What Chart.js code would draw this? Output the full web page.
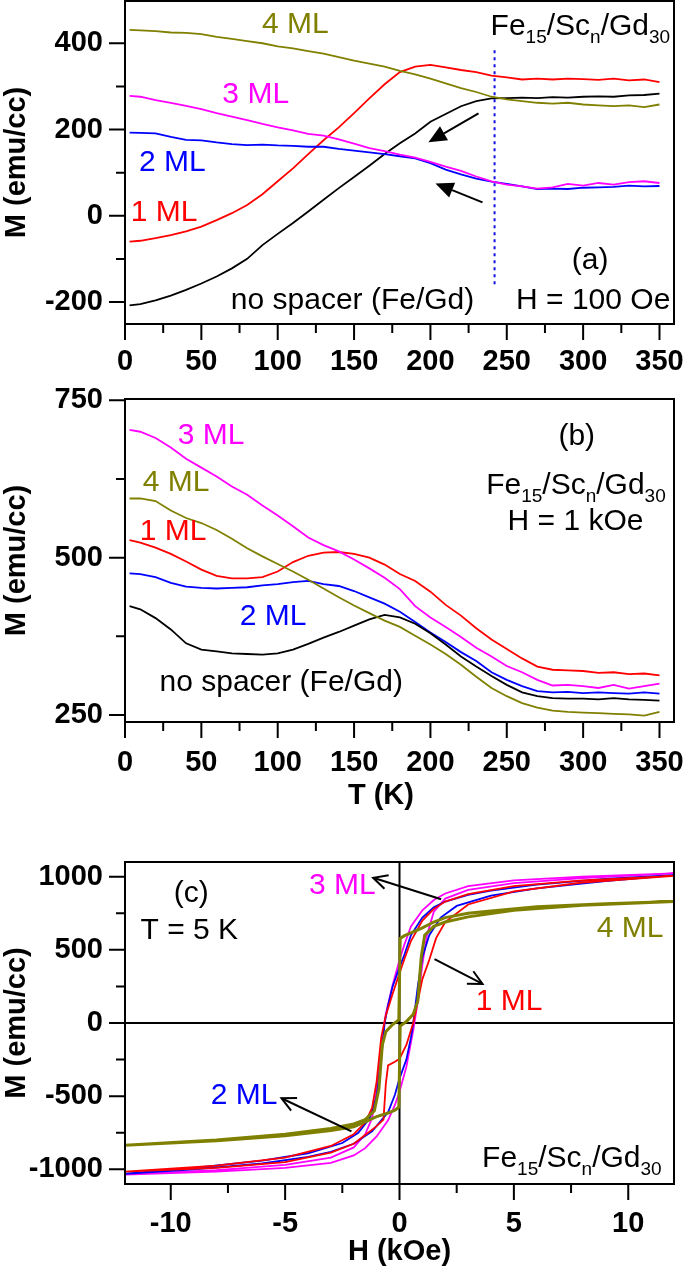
<!DOCTYPE html>
<html><head><meta charset="utf-8">
<script src="https://cdn.jsdelivr.net/npm/chart.js@4.4.1/dist/chart.umd.min.js"></script>
<style>
html,body{margin:0;padding:0;background:#fff;}
body{width:685px;height:1269px;position:relative;overflow:hidden;}
canvas{position:absolute;left:0;}
</style></head><body>
<canvas id="ca" width="685" height="380" style="top:0px"></canvas>
<canvas id="cb" width="685" height="435" style="top:380px"></canvas>
<canvas id="cc" width="685" height="454" style="top:815px"></canvas>
<script>
// ---------- DATA ----------
const T = [3,10,20,30,40,50,60,70,80,90,100,110,120,130,140,150,160,170,180,190,200,210,220,230,240,250,260,270,280,290,300,310,320,330,340,350];
// panel (a): H = 100 Oe
const aBlack   = [-208,-205,-196,-185,-172,-157,-141,-122,-100,-68,-42,-17,10,37,64,90,116,143,168,191,218,236,254,266,272,273,274,273,275,274,276,277,276,279,280,283];
const aRed     = [-60,-58,-52,-45,-36,-25,-10,6,25,50,80,110,143,175,205,238,272,305,333,346,350,344,338,333,325,321,316,318,316,318,317,315,318,314,316,310];
const aBlue    = [193,192,191,183,176,175,170,166,164,165,163,162,160,160,155,151,147,143,138,133,122,107,96,86,79,74,68,62,63,62,65,66,67,70,68,69];
const aMagenta = [278,276,268,262,255,247,238,230,222,213,205,198,190,186,177,167,157,150,142,135,125,114,104,91,80,72,68,63,66,74,70,76,72,78,80,76];
const aOlive   = [431,430,428,425,424,421,415,410,405,400,393,388,382,376,368,360,353,346,336,328,318,307,296,287,276,270,266,262,260,262,258,256,254,256,252,258];
const aMarkerT = [242,242];
const aMarkerM = [384,-166];
// panel (b): H = 1 kOe
const bBlack   = [423,418,404,386,364,354,351,348,347,346,348,354,363,373,382,392,402,409,405,395,380,362,343,327,312,298,286,280,277,276,276,275,277,275,274,273];
const bRed     = [528,524,516,506,494,481,471,467,467,469,478,493,503,508,509,506,500,489,474,463,446,425,408,388,370,355,340,327,322,321,320,317,318,315,316,313];
const bBlue    = [475,474,469,460,454,452,451,452,453,456,458,461,463,458,455,447,437,427,414,398,381,366,350,336,318,306,296,288,286,287,285,286,285,284,286,284];
const bMagenta = [703,700,690,675,657,643,629,613,600,583,567,550,532,520,510,497,483,468,450,423,405,390,374,357,343,328,318,306,297,298,296,293,298,292,296,300];
const bOlive   = [594,594,590,575,563,555,544,530,515,502,490,478,465,451,437,424,412,400,390,376,362,347,330,311,293,280,269,262,257,255,254,253,252,251,249,255];
// panel (c): hysteresis loops at T = 5 K (H in kOe, M in emu/cc)
const cRedH = [12,8,5,3,2,1.5,1,0.5,0.2,0,-0.3,-0.6,-0.8,-1,-1.2,-1.5,-2,-3,-5,-8,-12,-8,-5,-3,-2,-1.5,-1,-0.7,-0.6,-0.5,-0.2,0,0.3,0.6,0.8,1,1.3,1.6,2,3,5,8,12];
const cRedM = [1005,975,935,880,830,780,700,560,430,340,200,50,-100,-400,-580,-680,-760,-840,-920,-975,-1015,-990,-950,-885,-825,-765,-705,-660,-420,-290,-265,-245,-150,0,150,300,430,580,690,810,900,960,1005];
const cBlueH = [12,9,6,4,3,2,1.5,1,0.5,0.2,0,-0.3,-0.5,-0.65,-0.8,-1,-1.3,-1.8,-2.5,-4,-6,-9,-12,-9,-6,-4,-3,-2,-1.2,-0.5,-0.2,0,0.3,0.5,0.6,0.8,1,1.3,1.8,2.5,4,6,9,12];
const cBlueM = [1010,985,945,905,875,830,790,720,600,460,380,250,120,0,-250,-500,-650,-750,-820,-890,-940,-990,-1030,-1000,-960,-915,-880,-825,-740,-610,-490,-380,-250,-100,0,250,450,600,720,800,870,920,970,1010];
const cMagH = [12,8,5,3,2,1.5,1,0.5,0.2,0,-0.3,-0.6,-0.8,-1,-1.2,-1.5,-2,-3,-5,-8,-12,-8,-5,-3,-2,-1.5,-1,-0.5,-0.2,0,0.3,0.6,0.8,1,1.2,1.5,2,3,5,8,12];
const cMagM = [1022,1000,975,935,885,840,770,660,530,430,260,60,-150,-450,-650,-760,-850,-920,-970,-1005,-1035,-1015,-990,-955,-905,-855,-775,-665,-560,-470,-300,-50,150,400,600,760,850,910,955,990,1022];
const cOliveH = [12,9,6,4,3,2,1.5,1,0.5,0.2,0.03,0,-0.03,-0.3,-0.6,-0.75,-0.9,-1.1,-1.5,-2,-3,-5,-8,-12,-8,-5,-3,-2,-1.5,-1,-0.5,-0.2,-0.03,0,0.03,0.3,0.6,0.8,0.95,1.1,1.5,2,3,5,8,12];
const cOliveM = [830,815,795,765,750,720,690,650,615,595,578,300,20,-10,-60,-150,-450,-600,-660,-690,-720,-760,-800,-836,-805,-770,-735,-710,-675,-640,-615,-595,-575,-300,-20,10,60,150,450,600,660,690,725,770,805,830];
// ticks
const tMajor = [0,50,100,150,200,250,300,350];
const tMinor = [25,75,125,175,225,275,325];
const aYMajor = [-200,0,200,400];
const aYMinor = [-100,100,300];
const bYMajor = [250,500,750];
const bYMinor = [375,625];
const cXMajor = [-10,-5,0,5,10];
const cXMinor = [-7.5,-2.5,2.5,7.5];
const cYMajor = [-1000,-500,0,500,1000];
const cYMinor = [-750,-250,250,750];

// ---------- STYLE ----------
const FAM = '"Liberation Sans", Arial, Helvetica, sans-serif';
Chart.defaults.font.family = FAM;
Chart.defaults.color = '#000';
const C = {black:'#000000', red:'#ff0000', blue:'#0000ff', magenta:'#ff00ff', olive:'#808000'};
const tickFont = {family:FAM, size:29, weight:'bold'};
const titleFont = {family:FAM, size:29, weight:'bold'};

const pts = (xs, ys) => xs.map((x,i)=>({x:x, y:ys[i]}));
const line = (xs, ys, color, w, extra) => Object.assign({data:pts(xs,ys), borderColor:color, backgroundColor:color, borderWidth:w||1.8, showLine:true, pointRadius:0, fill:false, tension:0}, extra||{});

function drawArrow(ctx, x1, y1, x2, y2, filled){
  const ang = Math.atan2(y2-y1, x2-x1);
  const L = filled ? 18 : 14, W = filled ? 8 : 7;
  const bx = x2 - L*Math.cos(ang), by = y2 - L*Math.sin(ang);
  const px = -Math.sin(ang)*W, py = Math.cos(ang)*W;
  ctx.strokeStyle = '#000'; ctx.fillStyle = '#000'; ctx.lineWidth = 2;
  ctx.beginPath(); ctx.moveTo(x1,y1); ctx.lineTo(filled?bx:x2, filled?by:y2); ctx.stroke();
  ctx.beginPath(); ctx.moveTo(bx+px, by+py); ctx.lineTo(x2,y2); ctx.lineTo(bx-px, by-py);
  if (filled){ ctx.closePath(); ctx.fill(); } else { ctx.stroke(); }
}

const framePlugin = {
  id:'frameTicks',
  beforeDatasetsDraw(chart, args, o){
    if (!o.zeroLines) return;
    const {ctx, chartArea:a, scales:{x,y}} = chart;
    ctx.save(); ctx.strokeStyle='#000'; ctx.lineWidth=2;
    const x0 = x.getPixelForValue(0), y0 = y.getPixelForValue(0);
    ctx.beginPath(); ctx.moveTo(x0,a.top); ctx.lineTo(x0,a.bottom); ctx.moveTo(a.left,y0); ctx.lineTo(a.right,y0); ctx.stroke();
    ctx.restore();
  },
  afterDatasetsDraw(chart, args, o){
    const {ctx, chartArea:a, scales:{x,y}} = chart;
    ctx.save(); ctx.strokeStyle='#000'; ctx.lineWidth=2;
    ctx.strokeRect(a.left, a.top, a.right-a.left, a.bottom-a.top);
    ctx.beginPath();
    o.xMajor.forEach(v=>{const p=x.getPixelForValue(v); ctx.moveTo(p,a.bottom); ctx.lineTo(p,a.bottom+16);});
    o.xMinor.forEach(v=>{const p=x.getPixelForValue(v); ctx.moveTo(p,a.bottom); ctx.lineTo(p,a.bottom+9);});
    o.yMajor.forEach(v=>{const p=y.getPixelForValue(v); ctx.moveTo(a.left,p); ctx.lineTo(a.left-16,p);});
    o.yMinor.forEach(v=>{const p=y.getPixelForValue(v); ctx.moveTo(a.left,p); ctx.lineTo(a.left-9,p);});
    ctx.stroke();
    ctx.restore();
  }
};

const annotPlugin = {
  id:'annot',
  afterDatasetsDraw(chart, args, o){
    const {ctx, chartArea:a, scales:{x,y}} = chart;
    ctx.save();
    (o.arrows||[]).forEach(r => drawArrow(ctx, x.getPixelForValue(r[0]), y.getPixelForValue(r[1]), x.getPixelForValue(r[2]), y.getPixelForValue(r[3]), o.filled));
    ctx.textAlign='center'; ctx.textBaseline='middle';
    (o.texts||[]).forEach(t => {
      ctx.font = '30px ' + FAM; ctx.fillStyle = t.c;
      ctx.fillText(t.s, x.getPixelForValue(t.x), y.getPixelForValue(t.y));
    });
    if (o.xTitle){
      ctx.font = 'bold 29px ' + FAM; ctx.fillStyle = '#000';
      ctx.fillText(o.xTitle.s, x.getPixelForValue(o.xTitle.x), a.bottom + o.xTitle.dy);
    }
    if (o.formula){
      let px = x.getPixelForValue(o.formula.x), py = y.getPixelForValue(o.formula.y);
      ctx.textAlign='left'; ctx.textBaseline='alphabetic'; ctx.fillStyle='#000';
      [['Fe',0],['15',1],['/Sc',0],['n',1],['/Gd',0],['30',1]].forEach(s=>{
        ctx.font = (s[1] ? '19px ' : '30px ') + FAM;
        ctx.fillText(s[0], px, py + (s[1] ? 8 : 0));
        px += ctx.measureText(s[0]).width;
      });
    }
    ctx.restore();
  }
};

function scales(o){
  return {
    x: {type:'linear', position:'bottom', min:o.xmin, max:o.xmax,
        grid:{display:false, drawTicks:false, tickLength:0}, border:{display:false},
        afterBuildTicks: s => { s.ticks = o.xMajor.map(v=>({value:v})); },
        afterFit: s => { s.height = o.xh; s.paddingLeft = 0; s.paddingRight = 0; },
        ticks:{autoSkip:false, maxRotation:0, minRotation:0, padding:o.xpad, font:tickFont, color:'#000', callback:v=>String(v)},
        title: o.xtitle ? {display:true, text:o.xtitle, font:titleFont, color:'#000', padding:{top:0, bottom:o.xtpad}} : {display:false}
    },
    y: {type:'linear', position:'left', min:o.ymin, max:o.ymax,
        grid:{display:false, drawTicks:false, tickLength:0}, border:{display:false},
        afterBuildTicks: s => { s.ticks = o.yMajor.map(v=>({value:v})); },
        afterFit: s => { s.width = 125; s.paddingTop = 0; s.paddingBottom = 0; },
        ticks:{autoSkip:false, padding:22, font:tickFont, color:'#000', callback:v=>String(v)},
        title:{display:true, text:'M (emu/cc)', font:titleFont, color:'#000', padding:{top:0, bottom:0}}
    }
  };
}

function makeChart(id, datasets, sc, padTop, frameOpts, annotOpts){
  return new Chart(document.getElementById(id), {
    type:'scatter',
    data:{datasets:datasets},
    options:{
      animation:false, responsive:false, devicePixelRatio:1, events:[],
      layout:{padding:{left:0, right:11, top:padTop, bottom:0}},
      scales:sc,
      plugins:{legend:{display:false}, tooltip:{enabled:false}, frameTicks:frameOpts, annot:annotOpts}
    },
    plugins:[framePlugin, annotPlugin]
  });
}

// ---------- PANEL (a) ----------
makeChart('ca', [
  line(aMarkerT, aMarkerM, '#1010e0', 2, {borderDash:[3,4]}),
  line(T, aOlive, C.olive),
  line(T, aMagenta, C.magenta),
  line(T, aBlue, C.blue),
  line(T, aRed, C.red),
  line(T, aBlack, C.black)
], scales({xmin:0, xmax:359.5, xMajor:tMajor, xh:56, xpad:21, ymin:-251, ymax:498, yMajor:aYMajor}), 1,
{xMajor:tMajor, xMinor:tMinor, yMajor:aYMajor, yMinor:aYMinor},
{filled:true,
 arrows:[[231.5,237.6,198.7,170.3],[234.1,31,203.3,75]],
 texts:[
  {s:'4 ML', x:111.5, y:443, c:C.olive},
  {s:'3 ML', x:85.6, y:280, c:C.magenta},
  {s:'2 ML', x:31, y:122, c:C.blue},
  {s:'1 ML', x:25.6, y:6, c:C.red},
  {s:'no spacer (Fe/Gd)', x:149, y:-196, c:'#000'},
  {s:'H = 100 Oe', x:306.6, y:-196, c:'#000'},
  {s:'(a)', x:304.6, y:-105, c:'#000'}
 ],
 formula:{x:239.4, y:419.5}});

// ---------- PANEL (b) ----------
makeChart('cb', [
  line(T, bOlive, C.olive),
  line(T, bBlack, C.black),
  line(T, bBlue, C.blue),
  line(T, bMagenta, C.magenta),
  line(T, bRed, C.red)
], scales({xmin:0, xmax:359.5, xMajor:tMajor, xh:93, xpad:24, ymin:239, ymax:752, yMajor:bYMajor}), 19,
{xMajor:tMajor, xMinor:tMinor, yMajor:bYMajor, yMinor:bYMinor},
{filled:true, arrows:[],
 xTitle:{s:'T (K)', x:167.6, dy:74},
 texts:[
  {s:'3 ML', x:56.4, y:693, c:C.magenta},
  {s:'4 ML', x:33.4, y:618.6, c:C.olive},
  {s:'1 ML', x:31.5, y:540.8, c:C.red},
  {s:'2 ML', x:97, y:405.8, c:C.blue},
  {s:'no spacer (Fe/Gd)', x:102.3, y:302, c:'#000'},
  {s:'(b)', x:295.8, y:691.7, c:'#000'},
  {s:'H = 1 kOe', x:295, y:556.7, c:'#000'}
 ],
 formula:{x:236.5, y:601}});

// ---------- PANEL (c) ----------
makeChart('cc', [
  line(cOliveH, cOliveM, C.olive, 3),
  line(cRedH, cRedM, C.red),
  line(cBlueH, cBlueM, C.blue),
  line(cMagH, cMagM, C.magenta)
], scales({xmin:-12, xmax:12, xMajor:cXMajor, xh:85, xpad:23, xtitle:'H (kOe)', xtpad:0, ymin:-1100, ymax:1100, yMajor:cYMajor}), 47,
{xMajor:cXMajor, xMinor:cXMinor, yMajor:cYMajor, yMinor:cYMinor, zeroLines:true},
{filled:false,
 arrows:[[1.82,845,-1.15,992],[1.53,437,3.63,267],[-2.10,-741,-5.16,-514]],
 texts:[
  {s:'(c)', x:-9.1, y:884, c:'#000'},
  {s:'T = 5 K', x:-9.19, y:630, c:'#000'},
  {s:'3 ML', x:-2.5, y:936, c:C.magenta},
  {s:'4 ML', x:10.08, y:644, c:C.olive},
  {s:'1 ML', x:4.79, y:147, c:C.red},
  {s:'2 ML', x:-6.79, y:-498, c:C.blue}
 ],
 formula:{x:3.61, y:-987}});
</script>
</body></html>
